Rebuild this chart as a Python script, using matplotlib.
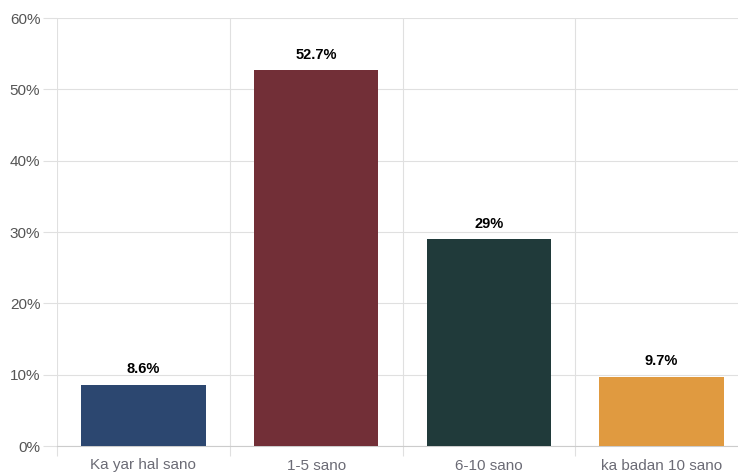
import matplotlib.pyplot as plt
from matplotlib.ticker import FixedLocator

categories = ['Ka yar hal sano', '1-5 sano', '6-10 sano', 'ka badan 10 sano']
values = [8.6, 52.7, 29.0, 9.7]
value_labels = ['8.6%', '52.7%', '29%', '9.7%']
colors = ['#2c4770', '#722f37', '#203a3a', '#e09a40']
y_ticks = [0, 10, 20, 30, 40, 50, 60]

plt.rcParams['font.family'] = ['Liberation Sans', 'DejaVu Sans']

fig = plt.figure(figsize=(7.38, 4.75), dpi=100)
# axes runs slightly past the right edge, like the original
ax = fig.add_axes([57 / 738, 29 / 475, 691 / 738, 428 / 475])

x = list(range(len(categories)))
ax.bar(x, values, width=0.72, color=colors, zorder=3)

for xi, v, lab in zip(x, values, value_labels):
    ax.annotate(lab, (xi, v), xytext=(0, 6), textcoords='offset points',
                ha='center', va='bottom', fontsize=10.5, fontweight='bold', color='black')

ax.set_xlim(-0.5, len(categories) - 0.5)
ax.set_ylim(0, 60)
ax.set_yticks(y_ticks)
ax.set_yticklabels([f'{t}%' for t in y_ticks])

ax.set_xticks(x)
ax.set_xticklabels(categories)
ax.xaxis.set_minor_locator(FixedLocator([i - 0.5 for i in range(len(categories) + 1)]))

grid_c = '#e0e0e0'
ax.grid(axis='y', color=grid_c, linewidth=0.8, zorder=0)
ax.grid(axis='x', which='minor', color=grid_c, linewidth=0.8, zorder=0)
ax.tick_params(axis='x', which='major', length=0, pad=9, labelsize=11, labelcolor='#6b6b75')
ax.tick_params(axis='x', which='minor', length=7, color=grid_c, width=0.8)
ax.tick_params(axis='y', length=10, color=grid_c, width=0.8, pad=2, labelsize=11, labelcolor='#555555')

for s in ['top', 'right', 'left']:
    ax.spines[s].set_visible(False)
ax.spines['bottom'].set_color('#cccccc')
ax.spines['bottom'].set_linewidth(0.8)

fig.savefig('out.png', dpi=100)
